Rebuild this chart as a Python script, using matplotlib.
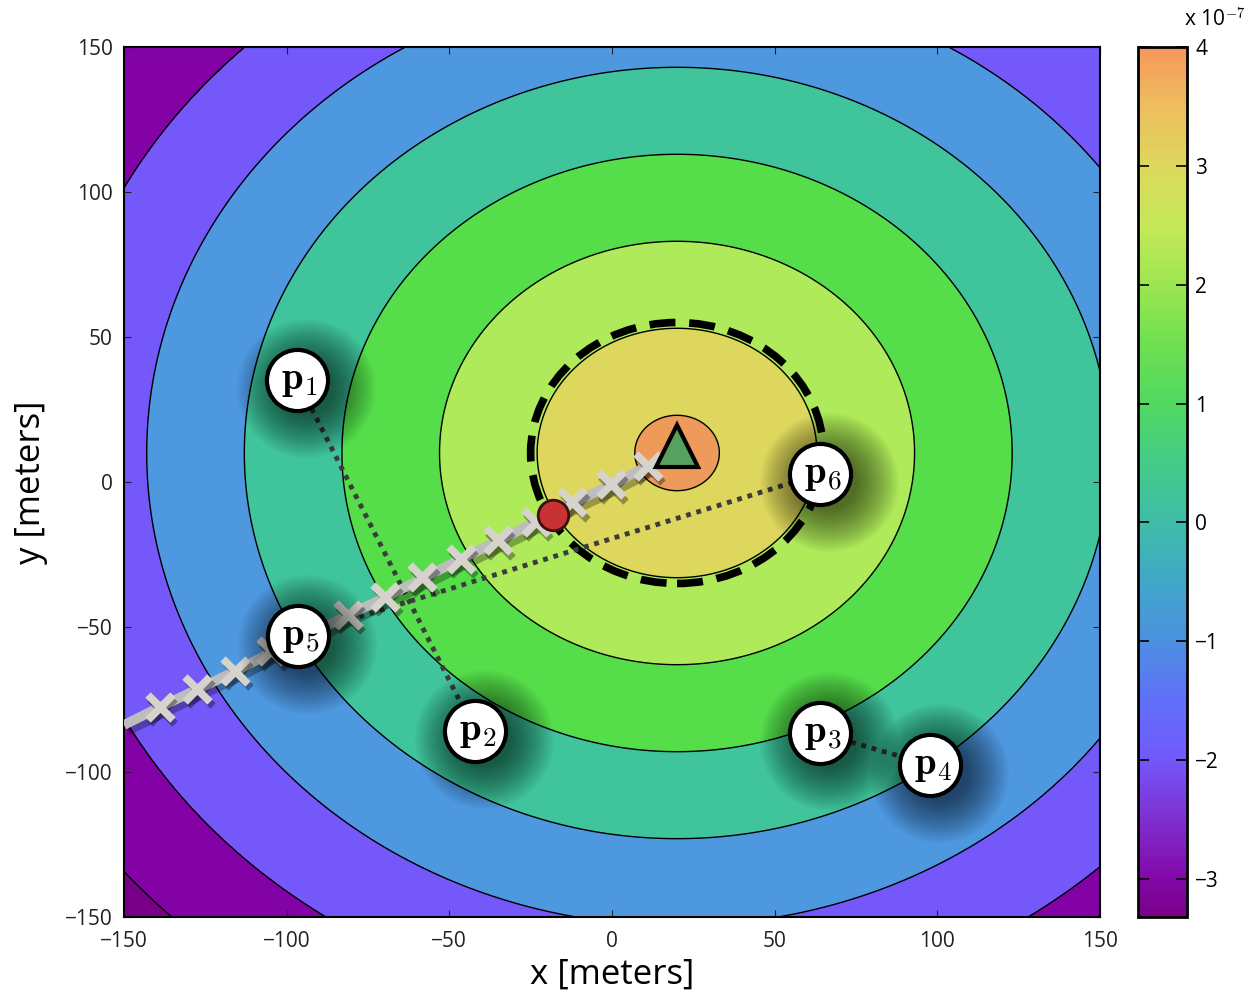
import numpy as np
import matplotlib
matplotlib.use("Agg")
import matplotlib.pyplot as plt
import matplotlib.patheffects as pe
from matplotlib.colors import LinearSegmentedColormap, Normalize
from matplotlib.patches import Circle
from matplotlib.transforms import offset_copy

plt.rcParams['font.family'] = ['Open Sans', 'DejaVu Sans']
plt.rcParams['mathtext.fontset'] = 'cm'

# field: concentric contours around the source
center = (20, 10)
level_radii = [13, 43, 73, 103, 133, 163, 193, 223]
band_colors = ['#EE9A5A', '#DDD75E', '#AEEA5A', '#56DE4A', '#3FC49C',
               '#4E98E0', '#7458FA', '#8202A6', '#770086']

# colorbar (x 1e-7)
cbar_vals = [-3.32, -3.0, -2.5, -2.0, -1.5, -1.0, -0.5, 0.0, 0.5,
             1.0, 1.5, 2.0, 2.5, 3.0, 3.5, 4.0]
cbar_cols = ['#7A0088', '#8208A8', '#8030D0', '#7258FA', '#6070F8', '#4C90E0',
             '#40A8C8', '#40BCA8', '#44CC88', '#50D860', '#6EE050', '#9CE650',
             '#C4E858', '#DCD85C', '#EEBE5E', '#F5985A']

# trajectory
path_x = [-150, -138.9, -127.3, -115.6, -104.5, -92.8, -81.1, -69.5, -58.1,
          -46.4, -35.0, -23.3, -12.0, -0.3, 11.1]
path_y = [-83.8, -77.6, -71.4, -65.2, -58.6, -52.5, -45.9, -39.7, -33.1,
          -26.6, -20.3, -13.8, -7.2, -1.0, 5.5]

# sensors
p_names = ['1', '2', '3', '4', '5', '6']
p_x = [-96.8, -42.1, 64.0, 97.8, -96.5, 64.0]
p_y = [35.2, -85.9, -86.6, -97.6, -53.1, 2.8]
pairs = [(0, 1), (2, 3), (4, 5)]

source = (20, 12.5)
estimate = (-18.1, -11.4)
est_radius = 45

fig = plt.figure(figsize=(12.52, 9.98), dpi=100)
ax = fig.add_axes([0.099, 0.0812, 0.7796, 0.8717])
cax = fig.add_axes([0.909, 0.0812, 0.0391, 0.8717])

gx = np.linspace(-150, 150, 601)
gy = np.linspace(-150, 150, 601)
X, Y = np.meshgrid(gx, gy)
R = np.hypot(X - center[0], Y - center[1])
levels = [0] + level_radii + [400]
ax.contourf(X, Y, R, levels=levels, colors=band_colors)
ax.contour(X, Y, R, levels=level_radii, colors='black', linewidths=1.0)

# dashed estimate region
ax.add_patch(Circle(center, est_radius, fill=False, ec='black', lw=5.5,
                    ls=(0, (3.4, 1.8)), zorder=4))

# dotted pair lines
for a, b in pairs:
    ax.plot([p_x[a], p_x[b]], [p_y[a], p_y[b]], ls=(0, (1, 1.2)), lw=3.5,
            color='#3c3c3c', zorder=5)

# trajectory with shadow
ax.plot(path_x, path_y, color='#bdbdbd', lw=7, solid_capstyle='butt', zorder=6,
        path_effects=[pe.SimpleLineShadow(offset=(3, -4), shadow_color='black',
                                          alpha=0.3), pe.Normal()])
ax.plot(path_x[1:], path_y[1:], ls='none', marker='x', ms=18, mew=5.5,
        color='#d6d3cc', zorder=7,
        path_effects=[pe.SimpleLineShadow(offset=(2, -3), shadow_color='black',
                                          alpha=0.35), pe.Normal()])

ax.plot(*estimate, marker='o', ms=22, mfc='#c83232', mec='#3a1010', mew=2,
        zorder=8)
ax.plot(*source, marker='^', ms=30, mfc='#56a060', mec='black', mew=3,
        zorder=8)

# sensor circles with soft shadows
shadow_tr = offset_copy(ax.transData, fig=fig, x=9, y=-8, units='dots')
for i in range(len(p_x)):
    for k in range(24):
        ax.plot(p_x[i], p_y[i], marker='o', ms=40 + 2.6 * k, mfc='black',
                mec='none', alpha=0.026, transform=shadow_tr, zorder=9)
    ax.plot(p_x[i], p_y[i], marker='o', ms=44, mfc='white', mec='black',
            mew=3, zorder=10)
    ax.text(p_x[i] + 0.8, p_y[i], r'$\mathbf{p}_{\mathsf{' + p_names[i] + '}}$',
            fontsize=28, ha='center', va='center', zorder=11)

ax.set_xlim(-150, 150)
ax.set_ylim(-150, 150)
ticks = [-150, -100, -50, 0, 50, 100, 150]
ax.set_xticks(ticks)
ax.set_yticks(ticks)
ax.tick_params(direction='in', length=5, labelsize=15, top=True, right=True,
               colors='#222222')
ax.tick_params(axis='x', pad=10)
ax.tick_params(axis='y', pad=8)
ax.set_xlabel('x [meters]', fontsize=25, labelpad=4)
ax.set_ylabel('y [meters]', fontsize=25, labelpad=12)
for s in ax.spines.values():
    s.set_linewidth(1.5)

cmap = LinearSegmentedColormap.from_list(
    'cb', list(zip([(v - cbar_vals[0]) / (cbar_vals[-1] - cbar_vals[0])
                    for v in cbar_vals], cbar_cols)))
sm = plt.cm.ScalarMappable(norm=Normalize(cbar_vals[0], cbar_vals[-1]), cmap=cmap)
cb = fig.colorbar(sm, cax=cax)
cb.set_ticks([-3, -2, -1, 0, 1, 2, 3, 4])
cb.ax.tick_params(direction='in', length=8, labelsize=15, left=True, right=True,
                  width=1.2, pad=6)
cb.outline.set_linewidth(2)
cax.text(2.2, 1.023, r'x 10$^{\mathsf{-7}}$', transform=cax.transAxes,
         fontsize=15, ha='right', va='baseline')

fig.savefig('out.png', dpi=100)
